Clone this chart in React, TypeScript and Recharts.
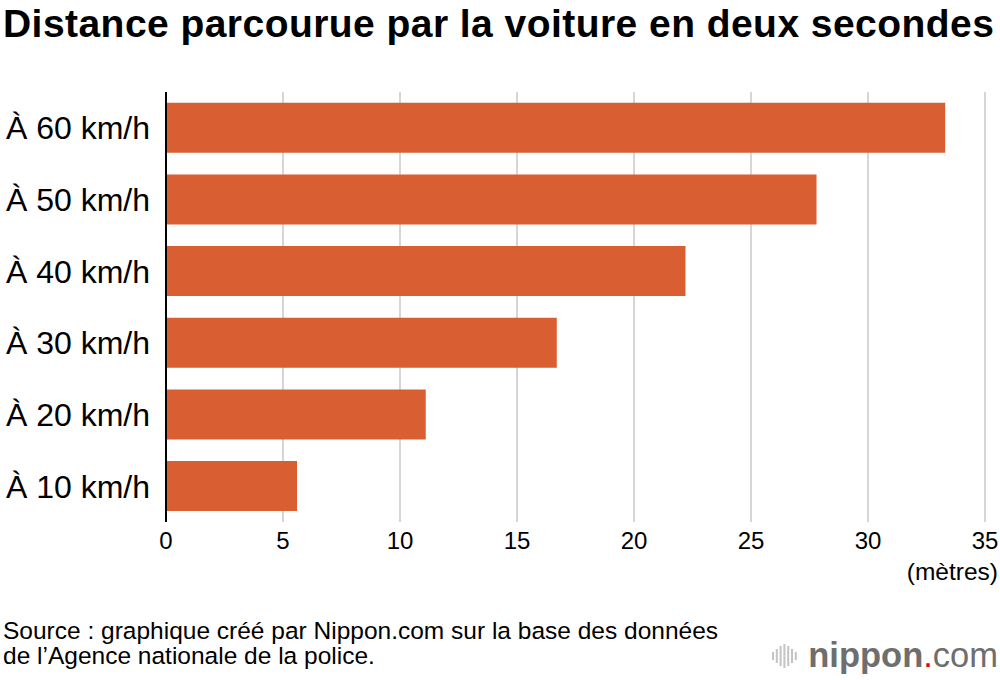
import React from "react";
import { BarChart, Bar, XAxis, YAxis, CartesianGrid } from "recharts";

const categories = ["À 60 km/h", "À 50 km/h", "À 40 km/h", "À 30 km/h", "À 20 km/h", "À 10 km/h"];
const distances = [33.3, 27.8, 22.2, 16.7, 11.1, 5.6];
const xTicks = [0, 5, 10, 15, 20, 25, 30, 35];

const data = categories.map((label, i) => ({ label, value: distances[i] }));

const FONT = "'Liberation Sans', Arial, Helvetica, sans-serif";
const BAR_COLOR = "#D95F33";

function Logo() {
  const bars = [8, 14, 20, 24, 20, 14, 8];
  return (
    <svg width={28} height={30} style={{ position: "absolute", left: 772, top: 641 }}>
      {bars.map((h, i) => (
        <rect key={i} x={i * 3.8} y={15 - h / 2} width={2} height={h} fill="#c4c4c4" />
      ))}
    </svg>
  );
}

export default function App() {
  return (
    <div
      style={{
        position: "absolute",
        left: 0,
        top: 0,
        width: 1000,
        height: 680,
        background: "#fff",
        fontFamily: FONT,
        color: "#000",
        overflow: "hidden",
      }}
    >
      <div
        style={{
          position: "absolute",
          left: 3,
          top: 4,
          fontSize: 39,
          lineHeight: "39px",
          fontWeight: "bold",
          letterSpacing: 0.45,
          whiteSpace: "nowrap",
        }}
      >
        Distance parcourue par la voiture en deux secondes
      </div>
      <div style={{ position: "absolute", left: 0, top: 0 }}>
        <BarChart
          width={1000}
          height={560}
          data={data}
          layout="vertical"
          margin={{ top: 92, right: 15, left: 0, bottom: 0 }}
          barCategoryGap="15%"
        >
          <CartesianGrid horizontal={false} vertical={true} stroke="#c8c8c8" strokeWidth={1.5} />
          <XAxis
            type="number"
            domain={[0, 35]}
            ticks={xTicks}
            height={38}
            axisLine={false}
            tickLine={false}
            tickMargin={4}
            tick={{ fontSize: 24, fill: "#000", fontFamily: FONT }}
            interval={0}
          />
          <YAxis
            type="category"
            dataKey="label"
            width={166}
            axisLine={{ stroke: "#000", strokeWidth: 2 }}
            tickLine={false}
            tickMargin={10}
            tick={{ fontSize: 32, fill: "#000", fontFamily: FONT }}
            interval={0}
          />
          <Bar dataKey="value" fill={BAR_COLOR} isAnimationActive={false} />
        </BarChart>
      </div>
      <div
        style={{
          position: "absolute",
          right: 2,
          top: 560,
          fontSize: 24.5,
          lineHeight: "24px",
          whiteSpace: "nowrap",
        }}
      >
        (mètres)
      </div>
      <div
        style={{
          position: "absolute",
          left: 3,
          top: 620,
          fontSize: 24.5,
          lineHeight: "22px",
          whiteSpace: "nowrap",
        }}
      >
        Source : graphique créé par Nippon.com sur la base des données
      </div>
      <div
        style={{
          position: "absolute",
          left: 3,
          top: 645,
          fontSize: 24.5,
          lineHeight: "22px",
          whiteSpace: "nowrap",
        }}
      >
        de l’Agence nationale de la police.
      </div>
      <Logo />
      <div
        style={{
          position: "absolute",
          right: 2,
          top: 637,
          fontSize: 34.5,
          lineHeight: "36px",
          whiteSpace: "nowrap",
          color: "#6e6e6e",
        }}
      >
        <span style={{ fontWeight: "bold" }}>nippon</span>
        <span style={{ color: "#e60012" }}>.</span>
        <span>com</span>
      </div>
    </div>
  );
}
